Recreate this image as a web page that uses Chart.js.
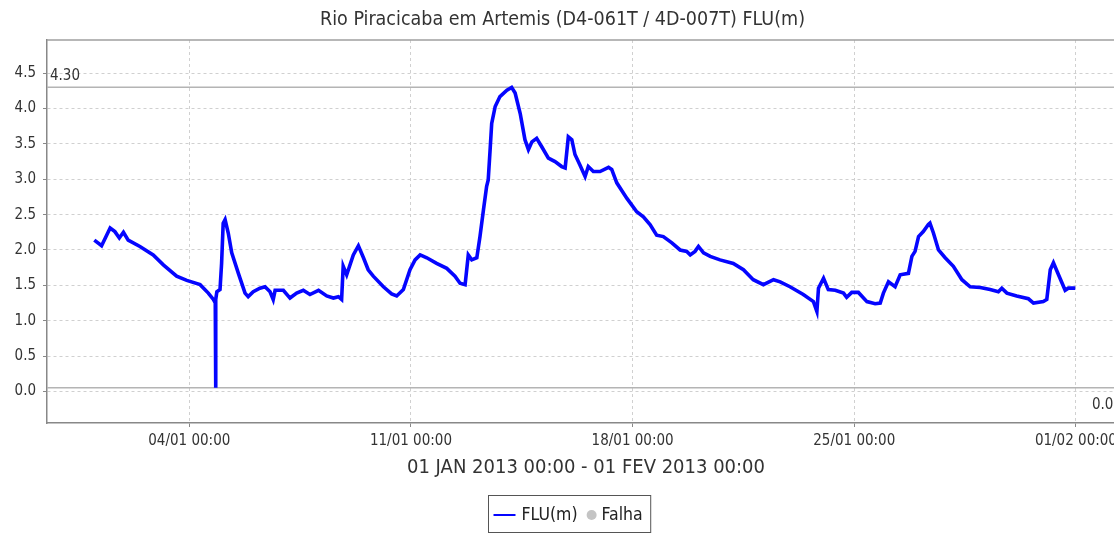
<!DOCTYPE html>
<html>
<head>
<meta charset="utf-8">
<script src="https://cdn.jsdelivr.net/npm/chart.js@4/dist/chart.umd.min.js"></script>
<style>
  html, body { margin: 0; padding: 0; background: #fff; overflow: hidden; }
</style>
</head>
<body>
<canvas id="grafico" width="1132" height="533"></canvas>
<script>
// dias contados a partir de 01/01/2013 00:00
var dias = [
  0.00, 0.23, 0.50, 0.65, 0.79, 0.92, 1.07, 1.44, 1.86, 2.18, 2.60, 2.92, 3.34, 3.60, 3.76,
  3.82, 3.83, 3.84, 3.87, 3.97, 4.02, 4.07, 4.13, 4.23, 4.34, 4.55, 4.76, 4.86, 5.02, 5.23,
  5.39, 5.55, 5.65, 5.71, 5.97, 6.18, 6.39, 6.60, 6.81, 7.08, 7.34, 7.55, 7.71, 7.81, 7.86,
  7.97, 8.18, 8.34, 8.50, 8.65, 8.81, 9.13, 9.39, 9.55, 9.76, 9.97, 10.13, 10.29, 10.50, 10.81,
  11.13, 11.39, 11.55, 11.71, 11.81, 11.92, 12.08, 12.18, 12.29, 12.39, 12.44, 12.50, 12.55, 12.66, 12.81,
  13.03, 13.18, 13.29, 13.45, 13.60, 13.71, 13.82, 13.97, 14.13, 14.34, 14.55, 14.76, 14.87, 14.97, 15.08,
  15.18, 15.34, 15.50, 15.60, 15.76, 15.97, 16.24, 16.34, 16.50, 16.82, 17.13, 17.34, 17.55, 17.76, 17.97,
  18.24, 18.50, 18.71, 18.82, 18.97, 19.08, 19.24, 19.45, 19.76, 20.18, 20.50, 20.81, 21.13, 21.45, 21.66,
  21.97, 22.39, 22.71, 22.82, 22.87, 23.03, 23.18, 23.40, 23.66, 23.76, 23.92, 24.13, 24.40, 24.66, 24.82,
  24.92, 25.08, 25.29, 25.45, 25.71, 25.82, 25.92, 26.03, 26.18, 26.34, 26.39, 26.50, 26.66, 26.87, 27.13,
  27.40, 27.66, 27.98, 28.29, 28.55, 28.66, 28.82, 29.13, 29.50, 29.66, 29.97, 30.08, 30.19, 30.29, 30.45,
  30.66, 30.76, 30.98
];
var nivel = [
  2.14, 2.06, 2.31, 2.26, 2.17, 2.25, 2.14, 2.05, 1.93, 1.79, 1.63, 1.57, 1.51, 1.39, 1.30,
  1.25, 0.05, 1.30, 1.41, 1.44, 1.81, 2.38, 2.43, 2.24, 1.96, 1.67, 1.39, 1.34, 1.41, 1.46,
  1.48, 1.41, 1.30, 1.43, 1.43, 1.32, 1.39, 1.43, 1.37, 1.43, 1.35, 1.32, 1.34, 1.30, 1.77,
  1.65, 1.93, 2.06, 1.89, 1.72, 1.63, 1.48, 1.38, 1.35, 1.44, 1.72, 1.86, 1.93, 1.89, 1.81,
  1.74, 1.63, 1.53, 1.51, 1.93, 1.86, 1.89, 2.19, 2.57, 2.90, 2.99, 3.42, 3.79, 4.03, 4.17,
  4.26, 4.30, 4.22, 3.93, 3.56, 3.42, 3.53, 3.58, 3.46, 3.30, 3.25, 3.18, 3.16, 3.60, 3.56,
  3.35, 3.20, 3.04, 3.18, 3.11, 3.11, 3.17, 3.14, 2.95, 2.73, 2.54, 2.47, 2.36, 2.21, 2.19,
  2.10, 2.00, 1.98, 1.93, 1.98, 2.05, 1.96, 1.91, 1.86, 1.81, 1.72, 1.58, 1.51, 1.58, 1.55,
  1.48, 1.37, 1.27, 1.13, 1.46, 1.60, 1.44, 1.43, 1.39, 1.33, 1.40, 1.40, 1.27, 1.24, 1.25,
  1.39, 1.55, 1.48, 1.65, 1.67, 1.91, 1.98, 2.19, 2.26, 2.36, 2.38, 2.24, 2.00, 1.89, 1.77,
  1.58, 1.48, 1.47, 1.44, 1.41, 1.46, 1.39, 1.35, 1.31, 1.25, 1.27, 1.30, 1.72, 1.82, 1.65,
  1.43, 1.46, 1.46
];

// eixos
var ticksX = [3, 10, 17, 24, 31];
var rotulosX = ['04/01 00:00', '11/01 00:00', '18/01 00:00', '25/01 00:00', '01/02 00:00'];
var ticksY = [0, 0.5, 1, 1.5, 2, 2.5, 3, 3.5, 4, 4.5];
var nivelMax = 4.30;
var nivelMin = 0.05;

var titulo = 'Rio Piracicaba em Artemis (D4-061T / 4D-007T) FLU(m)';
var tituloX = '01 JAN 2013 00:00 - 01 FEV 2013 00:00';

var FONTE = '"DejaVu Sans Condensed", "Liberation Sans Narrow", "DejaVu Sans", sans-serif';
Chart.defaults.font.family = FONTE;

var pontos = dias.map(function (d, i) { return { x: d, y: nivel[i] }; });

// moldura do grafico, linhas de max/min e legenda com borda
var moldura = {
  id: 'moldura',
  beforeDatasetsDraw: function (chart) {
    var ctx = chart.ctx, a = chart.chartArea, y = chart.scales.y;
    ctx.save();
    ctx.strokeStyle = '#a0a0a0';
    ctx.lineWidth = 1.5;
    ctx.beginPath();
    ctx.moveTo(a.left, a.top);
    ctx.lineTo(a.right, a.top);
    ctx.lineTo(a.right, a.bottom);
    ctx.stroke();

    var yMax = y.getPixelForValue(nivelMax);
    var yMin = y.getPixelForValue(nivelMin);
    ctx.strokeStyle = '#b4b4b4';
    ctx.beginPath();
    ctx.moveTo(a.left, yMax); ctx.lineTo(a.right, yMax);
    ctx.moveTo(a.left, yMin); ctx.lineTo(a.right, yMin);
    ctx.stroke();

    ctx.fillStyle = '#333';
    ctx.font = '15px ' + FONTE;
    ctx.textBaseline = 'alphabetic';
    ctx.textAlign = 'left';
    ctx.fillText(nivelMax.toFixed(2), a.left + 3, yMax - 7);
    ctx.textAlign = 'right';
    ctx.fillText(nivelMin.toFixed(2), a.right - 3, yMin + 21);
    ctx.restore();
  },
  afterDraw: function (chart) {
    var ctx = chart.ctx;
    var ds = chart.data.datasets;
    ctx.save();
    ctx.font = '17.5px ' + FONTE;
    ctx.textBaseline = 'middle';
    ctx.textAlign = 'left';
    var w0 = ctx.measureText(ds[0].label).width;
    var w1 = ctx.measureText(ds[1].label).width;
    var largura = 5 + 22 + 6 + w0 + 9 + 10 + 5 + w1 + 8;
    var x = Math.round(569 - largura / 2) + 0.5;
    var cy = 515;
    ctx.strokeStyle = '#555';
    ctx.lineWidth = 1;
    ctx.strokeRect(x, 495.5, largura, 37);

    var px = x + 5;
    ctx.strokeStyle = ds[0].borderColor;
    ctx.lineWidth = 2;
    ctx.beginPath(); ctx.moveTo(px, cy); ctx.lineTo(px + 22, cy); ctx.stroke();
    px += 28;
    ctx.fillStyle = '#222';
    ctx.fillText(ds[0].label, px, cy);
    px += w0 + 9;
    ctx.fillStyle = ds[1].backgroundColor;
    ctx.beginPath(); ctx.arc(px + 5, cy, 5, 0, Math.PI * 2); ctx.fill();
    px += 15;
    ctx.fillStyle = '#222';
    ctx.fillText(ds[1].label, px, cy);
    ctx.restore();
  }
};

var grafico = new Chart(document.getElementById('grafico'), {
  type: 'line',
  data: {
    datasets: [
      {
        label: 'FLU(m)',
        data: pontos,
        borderColor: '#0505ff',
        borderWidth: 3.6,
        pointRadius: 0,
        tension: 0,
        fill: false
      },
      {
        label: 'Falha',
        data: [],
        borderColor: '#c4c4c4',
        backgroundColor: '#c4c4c4',
        showLine: false,
        pointRadius: 4
      }
    ]
  },
  options: {
    responsive: false,
    animation: false,
    layout: { padding: { left: 0, right: 7, top: 0, bottom: 48 } },
    plugins: {
      legend: { display: false },
      tooltip: { enabled: false },
      title: {
        display: true,
        text: titulo,
        color: '#333',
        font: { size: 19.5, weight: 'normal' },
        padding: { top: 8, bottom: 8.6 }
      }
    },
    scales: {
      x: {
        type: 'linear',
        min: -1.494,
        max: 32.55,
        afterBuildTicks: function (s) { s.ticks = ticksX.map(function (v) { return { value: v }; }); },
        afterFit: function (s) { s.height = 62; },
        ticks: {
          autoSkip: false,
          maxRotation: 0,
          padding: 5,
          color: '#333',
          font: { size: 15 },
          callback: function (v, i) { return rotulosX[i]; }
        },
        grid: { color: '#d0d0d0', tickLength: 4, tickColor: '#888', tickBorderDash: [] },
        border: { color: '#888', width: 1.5, dash: [3, 3] },
        title: {
          display: true,
          text: tituloX,
          color: '#333',
          font: { size: 20 },
          padding: { top: 0, bottom: 5 }
        }
      },
      y: {
        type: 'linear',
        min: -0.447,
        max: 4.97,
        afterBuildTicks: function (s) { s.ticks = ticksY.map(function (v) { return { value: v }; }); },
        afterFit: function (s) { s.width = 47; },
        ticks: {
          padding: 7,
          color: '#333',
          font: { size: 15 },
          callback: function (v) { return v.toFixed(1); }
        },
        grid: { color: '#d0d0d0', tickLength: 4, tickColor: '#888', tickBorderDash: [] },
        border: { color: '#888', width: 1.5, dash: [3, 3] }
      }
    }
  },
  plugins: [moldura]
});
</script>
</body>
</html>
